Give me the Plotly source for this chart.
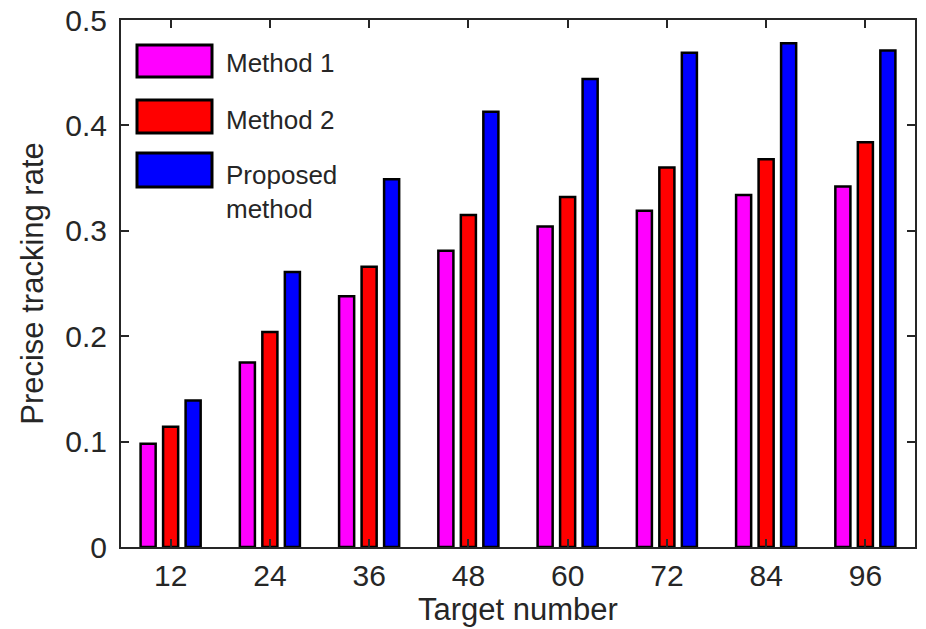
import plotly.graph_objects as go

categories = ["12", "24", "36", "48", "60", "72", "84", "96"]
method1 = [0.098, 0.175, 0.238, 0.281, 0.304, 0.319, 0.334, 0.342]
method2 = [0.114, 0.204, 0.266, 0.315, 0.332, 0.360, 0.368, 0.384]
proposed = [0.139, 0.261, 0.349, 0.413, 0.444, 0.469, 0.478, 0.471]
series_names = ["Method 1", "Method 2", "Proposed<br>method"]
series_colors = ["#ff00ff", "#ff0000", "#0000ff"]
ytick_vals = [0, 0.1, 0.2, 0.3, 0.4, 0.5]
ytick_text = ["0", "0.1", "0.2", "0.3", "0.4", "0.5"]

FONT = "Liberation Sans, Arial, sans-serif"
TXT = "#262626"

fig = go.Figure()
for name, vals, col in zip(series_names, [method1, method2, proposed], series_colors):
    fig.add_trace(go.Bar(x=categories, y=vals, name=name,
                         marker=dict(color=col, line=dict(color="black", width=2.5)), showlegend=False))

W, H = 926, 629
L, R, T, B = 121, 915, 20, 547
def px_x(px):
    return (px - L) / (R - L)
def px_y(py):
    return (B - py) / (B - T)

shapes = []
annotations = []
legend_rows = [(45, 77, 63), (100, 133, 120), (153, 187, 192)]
for (y0, y1, ty), name, col in zip(legend_rows, series_names, series_colors):
    shapes.append(dict(type="rect", xref="paper", yref="paper", x0=px_x(137), x1=px_x(212), y0=px_y(y1), y1=px_y(y0),
                       fillcolor=col, line=dict(color="black", width=3)))
    annotations.append(dict(xref="paper", yref="paper", x=px_x(224), y=px_y(ty), xanchor="left", yanchor="middle",
                            text=name, showarrow=False, align="left", font=dict(family=FONT, size=26, color=TXT)))

fig.update_layout(
    width=W, height=H,
    margin=dict(l=L, r=W - R, t=T, b=H - B),
    plot_bgcolor="white", paper_bgcolor="white",
    barmode="group", bargap=0.32, bargroupgap=0.33,
    font=dict(family=FONT, size=30, color=TXT),
    shapes=shapes, annotations=annotations,
    xaxis=dict(type="category", range=[-0.5, 7.5], showline=True, linecolor=TXT, linewidth=2, mirror="ticks",
               ticks="inside", ticklen=8, tickwidth=2, tickcolor=TXT, tickfont=dict(size=30, color=TXT),
               ticklabelstandoff=1, automargin=False,
               title=dict(text="Target number", font=dict(size=31, color=TXT), standoff=6), showgrid=False, zeroline=False),
    yaxis=dict(range=[0, 0.5], tickvals=ytick_vals, ticktext=ytick_text, showline=True, linecolor=TXT, linewidth=2, mirror="ticks",
               ticks="inside", ticklen=8, tickwidth=2, tickcolor=TXT, tickfont=dict(size=30, color=TXT),
               ticklabelstandoff=6, automargin=False,
               title=dict(text="Precise tracking rate", font=dict(size=31, color=TXT), standoff=12), showgrid=False, zeroline=False),
)

fig.write_html("out.html")
